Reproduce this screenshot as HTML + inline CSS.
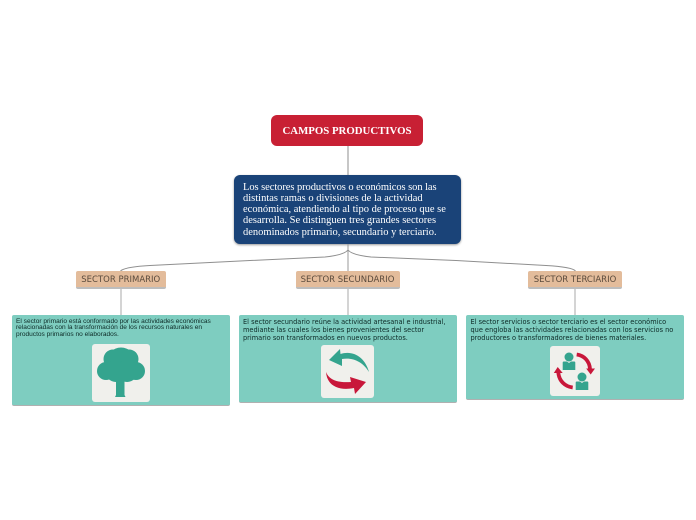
<!DOCTYPE html>
<html><head><meta charset="utf-8">
<style>
html,body{margin:0;padding:0;background:#fff}
#p{position:relative;width:696px;height:520px;overflow:hidden;background:#fff}
.a{position:absolute;box-sizing:border-box}
.t{position:absolute;white-space:nowrap}
.sec{background:#e3bc9b;border-radius:2px;border-bottom:2px solid #bdbdbd;color:#5a4a3c;font:8.5px/18.500px "DejaVu Sans",sans-serif;text-align:center}
.card{background:#7ecdc0;border-radius:2px;border-bottom:1.5px solid #b0b0b0}
.img{background:#f0f0ec;border-radius:3px}
.v{font:6.6px/8.200px "DejaVu Sans",sans-serif;color:#0d2a26}
.ar{font:6.570px/6.900px "Liberation Sans",sans-serif;color:#0d2a26}
</style></head><body><div id="p">
<svg class="a" style="left:0;top:0" width="696" height="520" fill="none">
<path d="M348 145V176" stroke="#b4b4b4" stroke-width="1.5"/>
<path d="M348 244V271" stroke="#9a9a9a" stroke-width="1"/>
<path d="M348 250Q344 255 325 257L240 261L150 265.500Q124 267 120.500 271" stroke="#8f8f8f" stroke-width="1"/>
<path d="M348 250Q352 255 371 257L456 260.500L546 265.500Q572 267 575.500 271" stroke="#8f8f8f" stroke-width="1"/>
<path d="M121 289V315M348 289V315M575 289V315" stroke="#a8a8a8" stroke-width="1"/>
</svg>

<div class="a" style="left:271px;top:115px;width:152px;height:30.500px;background:#c82034;border-radius:6px"></div>
<div class="t" style="left:271px;top:125px;width:152px;text-align:center;color:#fff;font:bold 10.800px/13px 'Liberation Serif',serif">CAMPOS PRODUCTIVOS</div>

<div class="a" style="left:234px;top:175px;width:227px;height:69px;background:#1a4378;border-radius:6px;box-shadow:0 1px 2px #999"></div>
<div class="t" style="left:243px;top:181.500px;color:#fff;font:10.500px/11.300px 'Liberation Serif',serif"><span style="letter-spacing:-.067px">Los sectores productivos o económicos son las</span><br>distintas ramas o divisiones de la actividad<br>económica, atendiendo al tipo de proceso que se<br>desarrolla. Se distinguen tres grandes sectores<br>denominados primario, secundario y terciario.</div>

<div class="a sec" style="left:76px;top:271px;width:89.500px;height:18px">SECTOR PRIMARIO</div>
<div class="a sec" style="left:295.500px;top:271px;width:104px;height:18px">SECTOR SECUNDARIO</div>
<div class="a sec" style="left:528px;top:271px;width:94px;height:18px">SECTOR TERCIARIO</div>

<div class="a card" style="left:11.500px;top:315px;width:218px;height:90.500px"></div>
<div class="t ar" style="left:16px;top:318.500px">El sector primario está conformado por las actividades económicas<br>relacionadas con la transformación de los recursos naturales en<br>productos primarios no elaborados.</div>
<div class="a img" style="left:92px;top:343.500px;width:57.500px;height:58px"></div>
<svg class="a" style="left:92px;top:343.500px" width="58" height="58" viewBox="0 0 58 58">
<g fill="#34a48e">
<circle cx="29" cy="18" r="14.500"/><circle cx="21" cy="15" r="9.500"/><circle cx="37" cy="15" r="9.500"/>
<circle cx="14" cy="27" r="9"/><circle cx="44" cy="27" r="9"/><circle cx="24" cy="27" r="11"/><circle cx="35" cy="27" r="11"/>
<path d="M24 34h8.500v17l1 2h-10.500l1-2z"/>
</g></svg>

<div class="a card" style="left:238.500px;top:315px;width:218.500px;height:87.500px"></div>
<div class="t v" style="left:243px;top:317.500px">El sector secundario reúne la actividad artesanal e industrial,<br>mediante las cuales los bienes provenientes del sector<br>primario son transformados en nuevos productos.</div>
<div class="a img" style="left:321px;top:345px;width:53px;height:53px"></div>
<svg class="a" style="left:321px;top:345px" width="53" height="53" viewBox="0 0 53 53">
<path fill="#34a48e" d="M8 15L19 4L19.500 9C32 5 44 12 48 27C42 17 32 12 21 14L21 21Z"/>
<path fill="#c8173a" d="M5 27C8 35 17 38 30 37L29 32L45 37L34 49L33 43C18 46 6 41 5 27Z"/>
</svg>

<div class="a card" style="left:465.500px;top:315px;width:218.500px;height:84.500px"></div>
<div class="t v" style="left:470.500px;top:317.500px">El sector servicios o sector terciario es el sector económico<br>que engloba las actividades relacionadas con los servicios no<br>productores o transformadores de bienes materiales.</div>
<div class="a img" style="left:550px;top:345.500px;width:49.500px;height:50px"></div>
<svg class="a" style="left:550px;top:345.500px" width="50" height="50" viewBox="0 0 50 50" fill="none">
<g fill="#34a48e">
<circle cx="19" cy="11" r="4.500"/><path d="M13.500 15.500h3.500l2 1.500 2-1.500h3.500a1 1 0 0 1 .8 1v7.500h-12.600v-7.500a1 1 0 0 1 .8-1z"/>
<circle cx="32" cy="31" r="4.500"/><path d="M26.500 35.500h3.500l2 1.500 2-1.500h3.500a1 1 0 0 1 .8 1v7.500h-12.600v-7.500a1 1 0 0 1 .8-1z"/>
</g>
<path d="M26.700 8.500C34 9.500 39.500 15 40 23" stroke="#c8173a" stroke-width="3.800"/>
<path fill="#c8173a" d="M36.200 22.500H45L40.700 28.500Z"/>
<path d="M22.700 41.500C15 40.500 9 35 8.300 26.500" stroke="#c8173a" stroke-width="3.800"/>
<path fill="#c8173a" d="M3.800 27H12.700L7.700 21Z"/>
</svg>
</div></body></html>
